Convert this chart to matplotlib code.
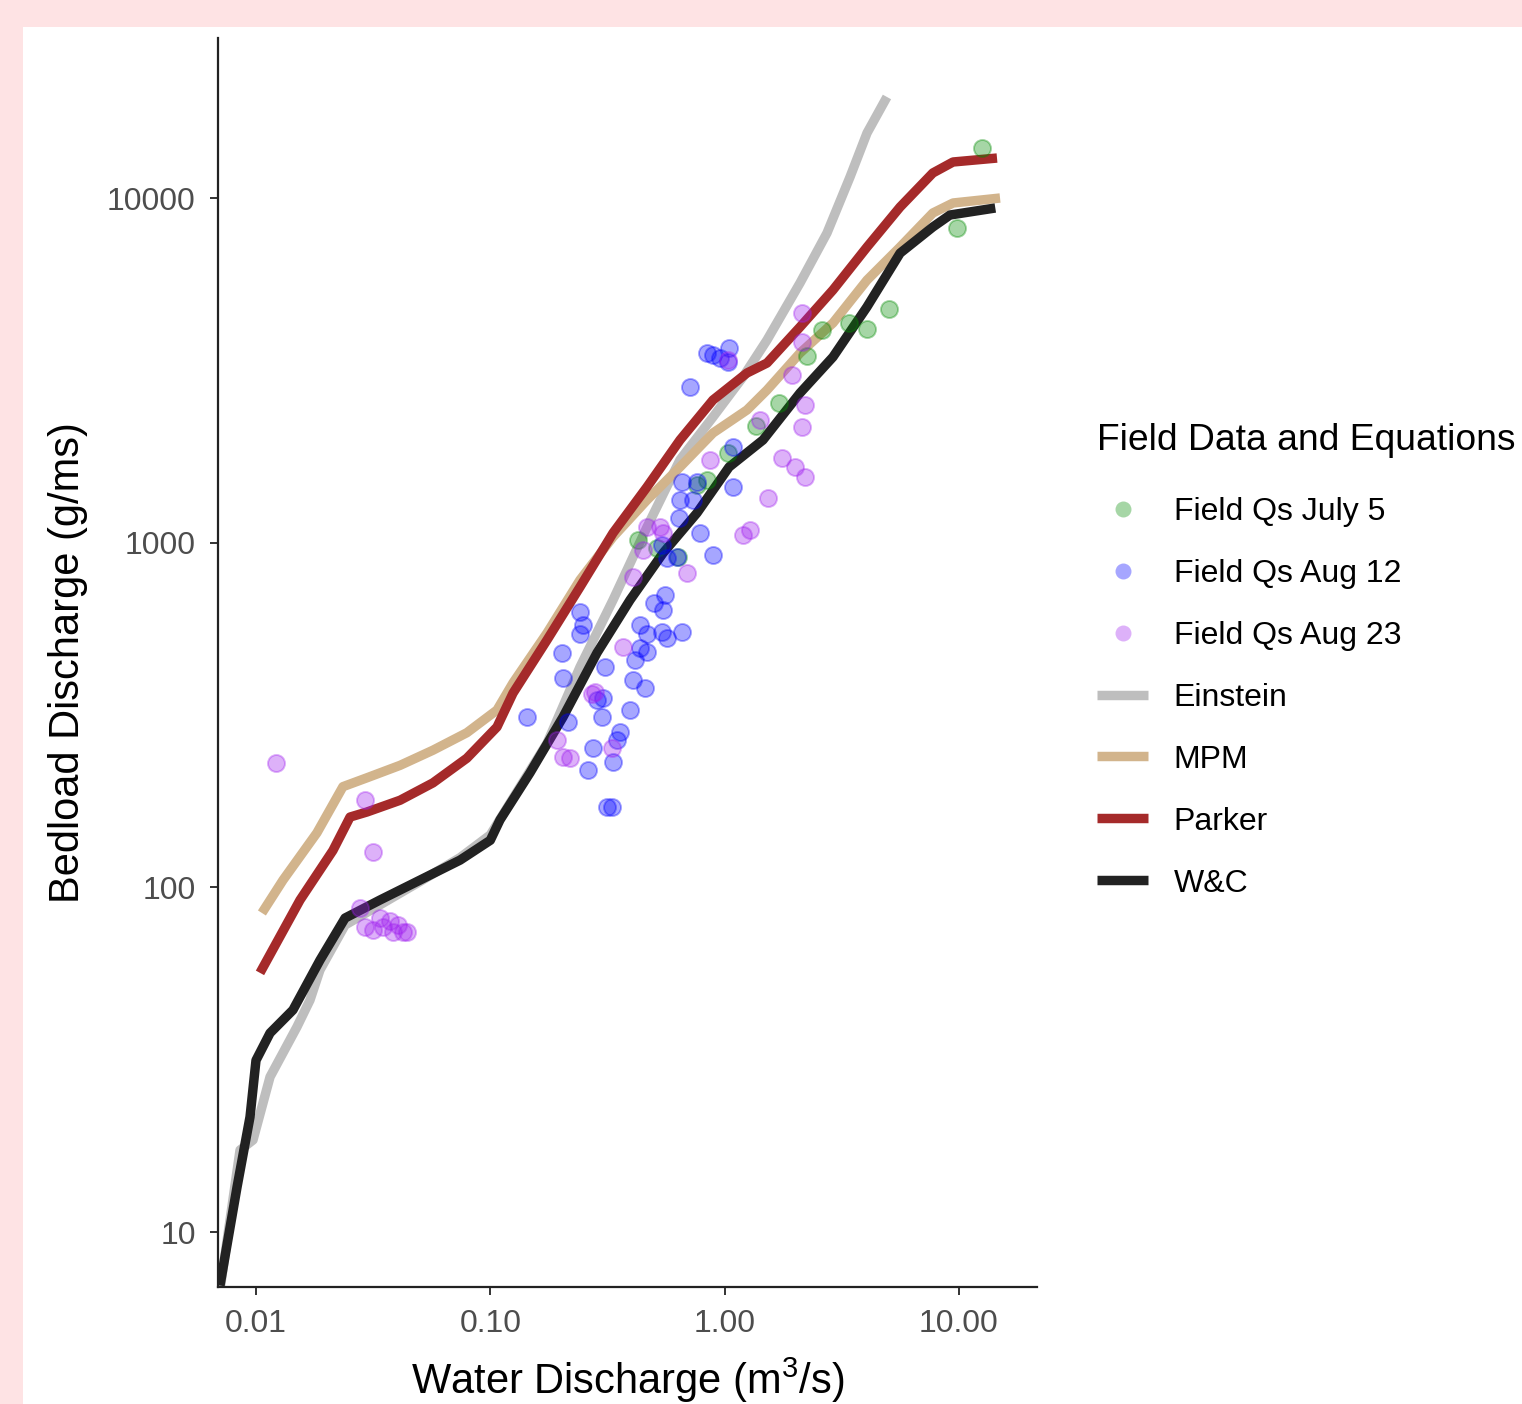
import matplotlib
matplotlib.use("Agg")
import matplotlib.pyplot as plt
from matplotlib.lines import Line2D
from matplotlib.patches import Rectangle
from matplotlib.ticker import FixedLocator, FixedFormatter, NullLocator

plt.rcParams['font.family'] = ['Liberation Sans', 'DejaVu Sans']
plt.rcParams['mathtext.fontset'] = 'custom'
plt.rcParams['mathtext.rm'] = 'Liberation Sans'

# ---------------- data ----------------
# Equation curves: water discharge (m3/s) and bedload discharge (g/ms)
einstein_q = [0.00702, 0.00855, 0.00971, 0.01148, 0.01496, 0.0170, 0.01875, 0.024, 0.0338, 0.0501,
              0.0743, 0.100, 0.1746, 0.2415, 0.334, 0.4664, 0.6451, 0.892, 1.198, 1.517,
              2.098, 2.735, 3.43, 4.054, 4.93]
einstein_qs = [6.8, 17.3, 18.5, 28.2, 39.4, 47.1, 57.6, 77.8, 89, 104,
               122, 142, 262, 436, 682, 1110, 1740, 2316, 3025, 3873,
               5668, 7915, 11510, 15440, 19640]

mpm_q = [0.0106, 0.01304, 0.0182, 0.0235, 0.02977, 0.0412, 0.0569, 0.0794, 0.1068, 0.125,
         0.1746, 0.2415, 0.334, 0.4664, 0.6451, 0.892, 1.246, 1.517, 2.098, 2.90,
         4.054, 5.61, 7.74, 9.44, 14.98]
mpm_qs = [84.3, 105, 144, 196, 208, 226, 250, 281, 327, 392,
          547, 780, 1039, 1330, 1658, 2081, 2427, 2773, 3550, 4339,
          5780, 7208, 9047, 9672, 10000]

parker_q = [0.0104, 0.01541, 0.0213, 0.0252, 0.02977, 0.0412, 0.0569, 0.0794, 0.1068, 0.125,
            0.1746, 0.2415, 0.334, 0.4664, 0.6451, 0.892, 1.246, 1.517, 2.098, 2.90,
            4.054, 5.61, 7.74, 9.44, 14.54]
parker_qs = [56.5, 91.9, 128, 160, 165.5, 179, 201, 237, 292, 366,
             522, 744, 1067, 1451, 1986, 2594, 3107, 3321, 4224, 5409,
             7208, 9417, 11820, 12720, 13060]

wc_q = [0.00702, 0.0083, 0.00943, 0.0100, 0.01148, 0.01438, 0.01875, 0.024, 0.0338, 0.0501,
        0.0743, 0.100, 0.110, 0.1477, 0.2043, 0.2853, 0.3948, 0.546, 0.7624, 1.045,
        1.458, 2.098, 2.90, 4.05, 5.61, 7.74, 9.16, 14.3]
wc_qs = [7.0, 13.5, 21.6, 31.5, 37.8, 44.1, 61.5, 81.5, 91.9, 105,
         120, 137, 157, 215, 312, 479, 682, 933, 1220, 1658,
         1986, 2718, 3457, 4830, 6920, 8240, 8926, 9355]

# Field measurements
july5_q = [12.55, 9.82, 5.03, 4.05, 3.40, 2.60, 2.25, 1.71, 1.36, 1.03, 0.84, 0.76, 0.427, 0.515, 0.633]
july5_qs = [13970, 8180, 4763, 4168, 4339, 4140, 3480, 2543, 2180, 1816, 1520, 1470, 1018, 964, 908]

aug12_q = [0.841, 1.045, 0.956, 1.034, 0.892, 0.712, 1.086, 0.762, 0.645, 0.733,
           0.658, 1.086, 0.785, 0.892, 0.568, 0.540, 0.626, 0.557, 0.546, 0.4355,
           0.466, 0.540, 0.568, 0.658, 0.2415, 0.249, 0.2415, 0.202, 0.4355, 0.466,
           0.415, 0.406, 0.457, 0.309, 0.204, 0.303, 0.395, 0.300, 0.358, 0.143,
           0.215, 0.274, 0.334, 0.347, 0.261, 0.315, 0.331, 0.50, 0.285, 0.64]
aug12_qs = [3552, 3670, 3430, 3343, 3500, 2830, 1895, 1500, 1330, 1330,
            1500, 1451, 1066, 921, 902, 984, 908, 705, 638, 577,
            543, 551, 529, 551, 629, 577, 543, 480, 495, 482,
            457, 400, 379, 436, 405, 354, 327, 312, 282, 312,
            302, 254, 231, 268, 219, 171, 171, 670, 350, 1180]

aug23_q = [0.0122, 0.0292, 0.0316, 0.0278, 0.0292, 0.0316, 0.0338, 0.0348, 0.0373, 0.0384,
           0.0404, 0.0424, 0.0440, 0.3685, 0.280, 0.272, 0.204, 0.219, 0.193, 0.331,
           0.691, 0.406, 0.530, 0.546, 0.466, 0.448, 0.866, 1.758, 1.995, 2.203,
           1.531, 1.283, 1.198, 2.14, 2.14, 1.94, 2.203, 2.14, 1.034, 1.416]
aug23_qs = [229, 179, 127, 87, 77, 75, 81.5, 77, 80, 74,
            78, 74, 74, 498, 369, 363, 239, 238, 268, 254,
            817, 795, 1110, 1066, 1110, 953, 1740, 1761, 1658, 1551,
            1350, 1088, 1050, 4637, 3825, 3066, 2510, 2165, 3390, 2270]

x_ticks = [0.01, 0.1, 1, 10]
x_tick_labels = ["0.01", "0.10", "1.00", "10.00"]
y_ticks = [10, 100, 1000, 10000]
y_tick_labels = ["10", "100", "1000", "10000"]

point_series = [
    ("Field Qs July 5", july5_q, july5_qs, "#008b00"),
    ("Field Qs Aug 12", aug12_q, aug12_qs, "#0000ff"),
    ("Field Qs Aug 23", aug23_q, aug23_qs, "#a020f0"),
]
line_series = [
    ("Einstein", einstein_q, einstein_qs, "#bebebe"),
    ("MPM", mpm_q, mpm_qs, "#d2b48c"),
    ("Parker", parker_q, parker_qs, "#a52a2a"),
    ("W&C", wc_q, wc_qs, "#222222"),
]

# ---------------- figure ----------------
W, H = 1522, 1404
fig = plt.figure(figsize=(W / 100, H / 100), dpi=100)
fig.patch.set_facecolor("#fee3e4")
fig.patches.append(Rectangle((23 / W, 0), 1 - 23 / W, (H - 27) / H,
                             transform=fig.transFigure, facecolor="white",
                             edgecolor="none", zorder=-10))

ax = fig.add_axes([218 / W, (H - 1287) / H, (1037 - 218) / W, (1287 - 38) / H])
ax.set_facecolor("white")
ax.set_xscale("log")
ax.set_yscale("log")

LW = 6.8
POINT_ALPHA = 0.35
handles = []
for name, q, qs, c in line_series:
    ax.plot(q, qs, color=c, lw=LW, solid_capstyle="butt", solid_joinstyle="round", zorder=2)
for name, q, qs, c in point_series:
    ax.scatter(q, qs, s=150, color=c, alpha=POINT_ALPHA, edgecolors=c, linewidths=1.4, zorder=3)
    handles.append(Line2D([], [], ls="none", marker="o", markersize=11.5, color=c,
                          alpha=POINT_ALPHA, markeredgewidth=0, label=name))
for name, q, qs, c in line_series:
    handles.append(Line2D([], [], color=c, lw=LW, solid_capstyle="butt", label=name))

ax.set_xlim(0.006884, 21.54)
ax.set_ylim(6.93, 29120)

ax.xaxis.set_major_locator(FixedLocator(x_ticks))
ax.xaxis.set_major_formatter(FixedFormatter(x_tick_labels))
ax.yaxis.set_major_locator(FixedLocator(y_ticks))
ax.yaxis.set_major_formatter(FixedFormatter(y_tick_labels))
ax.xaxis.set_minor_locator(NullLocator())
ax.yaxis.set_minor_locator(NullLocator())

for s in ["top", "right"]:
    ax.spines[s].set_visible(False)
for s in ["left", "bottom"]:
    ax.spines[s].set_linewidth(1.6)
    ax.spines[s].set_color("#222222")

ax.tick_params(axis="both", which="major", direction="out", length=6, width=1.4,
               color="#333333", labelsize=23, labelcolor="#4d4d4d", pad=10)

ax.set_xlabel("Water Discharge (m$^{3}$/s)", fontsize=30, color="black", labelpad=12)
ax.set_ylabel("Bedload Discharge (g/ms)", fontsize=30, color="black", labelpad=14)

leg = fig.legend(handles=handles, loc="upper left", bbox_to_anchor=(1097 / W, (H - 423) / H),
                 frameon=False, fontsize=23, title="Field Data and Equations",
                 title_fontsize=26.8, alignment="left", handlelength=1.6,
                 handletextpad=0.8, labelspacing=1.0, borderpad=0, borderaxespad=0)
leg._legend_box.sep = 28

fig.savefig("out.png", dpi=100, facecolor=fig.get_facecolor())
